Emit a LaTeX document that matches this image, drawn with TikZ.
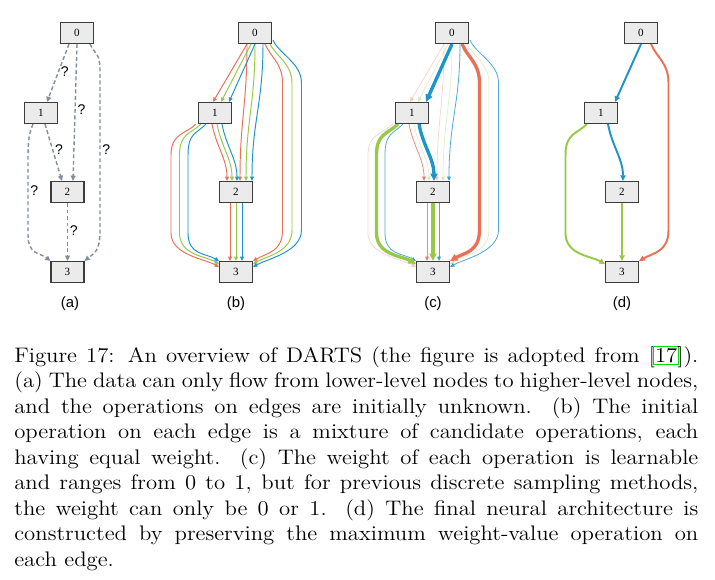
\documentclass[tikz,border=0pt]{standalone}
\usepackage{fontspec}
\newfontfamily\graphsans{Liberation Sans}
\newfontfamily\graphserif{Liberation Serif}
\usetikzlibrary{arrows.meta,calc,backgrounds}

\definecolor{opred}{RGB}{234,112,88}
\definecolor{opgreen}{RGB}{152,200,72}
\definecolor{opblue}{RGB}{28,150,200}
\definecolor{unknown}{RGB}{128,142,158}
\definecolor{boxfill}{RGB}{235,235,235}
\definecolor{boxline}{RGB}{60,60,60}
\definecolor{linkgreen}{RGB}{0,220,0}

% green link frame round a citation number
\newcommand{\citebox}[1]{\rlap{\color{linkgreen}\setlength{\fboxrule}{0.5pt}\setlength{\fboxsep}{0.6pt}\hspace{-1.1pt}\fbox{\phantom{#1}}}#1}

% one edge of a cell, #1 panel, #2 offset (-1 red, 0 green, 1 blue), #3 style
\newcommand{\opzeroone}[3]{\draw[#3] ($(#10.south)+({-4+4*#2},0)$) -- ($(#11.north)+({6+8*#2},0)$);}
\newcommand{\opzerotwo}[3]{\draw[#3] ($(#10.south)+({8*#2},0)$) .. controls +(0,60) and +(0,-60) .. ($(#12.north)+({10+6*#2},0)$);}
\newcommand{\opzerothree}[3]{\draw[#3] ($(#10.south east)+({-3+4*#2},{-2-2*#2})$) .. controls +(6,14) and +(0,-20) .. ($(#10)+({37+9.5*#2},50)$) -- ($(#10)+({37+9.5*#2},197)$) .. controls +(0,22) and +(14,-8) .. ($(#13.north east)+(0,{3+3*#2})$);}
\newcommand{\oponetwo}[3]{\draw[#3] ($(#11.south)+({2+5*#2},0)$) .. controls +(4,22) and +(0,-22) .. ($(#12.north)+({-4+5*#2},0)$);}
\newcommand{\oponethree}[3]{\draw[#3] ($(#11.south west)+({3+5*#2},0)$) .. controls +(-10,10) and +(0,-22) .. ($(#11)+({-35.5+8.5*#2},42)$) -- ($(#11)+({-35.5+8.5*#2},120)$) .. controls +(0,22) and +(-14,-8) .. ($(#13.north west)+(0,{3-3*#2})$);}
\newcommand{\optwothree}[3]{\draw[#3] ($(#12.south)+({6*#2},0)$) -- ($(#13.north)+({6*#2},0)$);}

\tikzset{
  box/.style={rectangle,draw=boxline,fill=boxfill,line width=0.8pt,minimum width=18.6pt,minimum height=11.8pt,inner sep=0pt,font=\graphserif\fontsize{6.3}{6.3}\selectfont},
  qmark/.style={anchor=west,inner sep=1pt,font=\graphsans\fontsize{8}{8}\selectfont},
  sublabel/.style={inner sep=0pt,font=\graphsans\fontsize{8.5}{8.5}\selectfont},
  unknownop/.style={draw=unknown,line width=0.8pt,dash pattern=on 2.2pt off 1.5pt,-{Triangle[length=3pt,width=2.8pt]}},
  mixop/.style={line width=0.55pt,-{Triangle[length=2.5pt,width=2.2pt]}},
  faint/.style={mixop,line width=0.4pt,opacity=0.3},
  weak/.style={mixop,line width=0.45pt,opacity=0.8},
  strong/.style={line width=1.9pt,-{Triangle[length=4.2pt,width=4pt]}},
  chosen/.style={line width=1.1pt,-{Triangle[length=3.2pt,width=3pt]}}
}

\begin{document}
\begin{tikzpicture}[x=0.57pt,y=-0.57pt]
\useasboundingbox (0,0) rectangle (715,579);
% (a) unknown operations
\node (a0) at (77,33) [box] {0};
\node (a1) at (41,113) [box] {1};
\node (a2) at (67.5,192) [box] {2};
\node (a3) at (67.5,272) [box] {3};
\node (la) at (70,304) [sublabel] {(a)};
% (b) mixture of operations
\node (b0) at (255,33) [box] {0};
\node (b1) at (215,113) [box] {1};
\node (b2) at (236,192) [box] {2};
\node (b3) at (236,272) [box] {3};
\node (lb) at (236,304) [sublabel] {(b)};
% (c) learned weights
\node (c0) at (452,33) [box] {0};
\node (c1) at (412,113) [box] {1};
\node (c2) at (433,192) [box] {2};
\node (c3) at (433,272) [box] {3};
\node (lc) at (433,304) [sublabel] {(c)};
% (d) final cell
\node (d0) at (641,33) [box] {0};
\node (d1) at (601,113) [box] {1};
\node (d2) at (622,192) [box] {2};
\node (d3) at (622,272) [box] {3};
\node (ld) at (622,304) [sublabel] {(d)};

\begin{pgfonlayer}{background}
\fill[white] (0,0) rectangle (715,579);
\draw[unknownop] ($(a0.south)+(-8,0)$) -- node[qmark,pos=.48] {?} ($(a1.north)+(6,0)$);
\draw[unknownop] (a0.south) -- node[qmark,pos=.48] {?} ($(a2.north)+(5.5,0)$);
\draw[unknownop] ($(a0.south east)+(-4,0)$) .. controls +(6,12) and +(0,-18) .. ($(a0)+(23,38)$) -- node[qmark,pos=.49] {?} ($(a0)+(23,198)$) .. controls +(0,20) and +(10,-8) .. (a3.north east);
\draw[unknownop] ($(a1.south)+(4,0)$) -- node[qmark,pos=.45] {?} ($(a2.north)+(-5.5,0)$);
\draw[unknownop] ($(a1.south west)+(9,0)$) .. controls +(-5,12) and +(0,-18) .. ($(a1)+(-13,50)$) -- node[qmark,pos=.39] {?} ($(a1)+(-13,122)$) .. controls +(0,20) and +(-10,-8) .. (a3.north west);
\draw[unknownop] (a2.south) -- node[qmark,pos=.47] {?} (a3.north);

\foreach \k/\c in {-1/opred,0/opgreen,1/opblue} {
  \opzeroone{b}{\k}{mixop,\c}
  \opzerotwo{b}{\k}{mixop,\c}
  \opzerothree{b}{\k}{mixop,\c}
  \oponetwo{b}{\k}{mixop,\c}
  \oponethree{b}{\k}{mixop,\c}
  \optwothree{b}{\k}{mixop,\c}
}

\foreach \k/\c/\w in {-1/opred/faint,0/opgreen/faint,1/opblue/weak} {\opzerotwo{c}{\k}{\w,\c}}
\foreach \k/\c/\w in {-1/opred/faint,0/opgreen/faint,1/opblue/strong} {\opzeroone{c}{\k}{\w,\c}}
\foreach \k/\c/\w in {0/opgreen/faint,1/opblue/weak,-1/opred/strong} {\opzerothree{c}{\k}{\w,\c}}
\foreach \k/\c/\w in {-1/opred/weak,0/opgreen/faint,1/opblue/strong} {\oponetwo{c}{\k}{\w,\c}}
\foreach \k/\c/\w in {-1/opred/faint,1/opblue/weak,0/opgreen/strong} {\oponethree{c}{\k}{\w,\c}}
\foreach \k/\c/\w in {-1/opred/weak,1/opblue/weak,0/opgreen/strong} {\optwothree{c}{\k}{\w,\c}}

\opzeroone{d}{1}{chosen,opblue}
\oponetwo{d}{1}{chosen,opblue}
\opzerothree{d}{-1}{chosen,opred}
\oponethree{d}{0}{chosen,opgreen}
\optwothree{d}{0}{chosen,opgreen}
\end{pgfonlayer}

\node (caption) at (14,346) [anchor=north west,inner sep=0pt]
  {\scalebox{1.08}[1]{\parbox[t]{361pt}{\fontsize{12}{14.5}\selectfont
  Figure 17: An overview of DARTS (the figure is adopted from [\citebox{17}]).\linebreak
  (a) The data can only flow from lower-level nodes to higher-level nodes,\linebreak
  and the operations on edges are initially unknown. (b) The initial\linebreak
  operation on each edge is a mixture of candidate operations, each\linebreak
  having equal weight. (c) The weight of each operation is learnable\linebreak
  and ranges from 0 to 1, but for previous discrete sampling methods,\linebreak
  the weight can only be 0 or 1. (d) The final neural architecture is\linebreak
  constructed by preserving the maximum weight-value operation on\linebreak
  each edge.}}};
\end{tikzpicture}
\end{document}
